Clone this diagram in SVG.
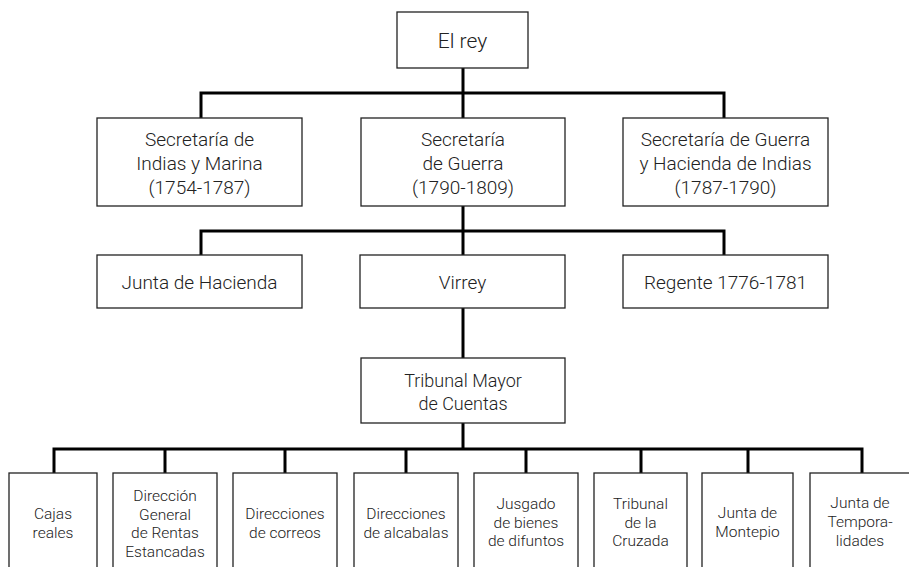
<svg xmlns="http://www.w3.org/2000/svg" width="909" height="567" viewBox="0 0 909 567">
<style>
  .box { fill: #ffffff; stroke: #222222; stroke-width: 1.3; }
  .conn { fill: none; stroke: #000000; stroke-width: 3; stroke-linejoin: miter; stroke-linecap: butt; }
  text { font-family: Roboto, "Open Sans", "Liberation Sans", sans-serif; font-weight: 300; fill: #222222; text-anchor: middle; }
  .t21 { font-size: 21px; }
  .t19 { font-size: 19px; }
  .t18 { font-size: 18px; }
  .t15 { font-size: 15.5px; }
</style>
<rect x="0" y="0" width="909" height="567" fill="#ffffff"/>
<g id="connectors">
  <path class="conn" d="M463 68 V93 M201 118 V93 H724 V118 M463 93 V118"/>
  <path class="conn" d="M463 206 V231 M201 255 V231 H724 V255 M463 231 V255"/>
  <path class="conn" d="M463 308 V358"/>
  <path class="conn" d="M463 423 V449 M54 473 V449 H862 V473 M165 449 V473 M285 449 V473 M406 449 V473 M526 449 V473 M641 449 V473 M748 449 V473"/>
</g>
<g id="n-rey">
  <rect class="box" x="397" y="12" width="131" height="56"/>
  <text class="t21" x="462.5" y="48">El rey</text>
</g>
<g id="n-sec-indias">
  <rect class="box" x="97" y="118" width="205" height="88"/>
  <text class="t19" x="199.5" y="146">Secretaría de</text>
  <text class="t19" x="199.5" y="170">Indias y Marina</text>
  <text class="t19" x="199.5" y="194">(1754-1787)</text>
</g>
<g id="n-sec-guerra">
  <rect class="box" x="361" y="118" width="204" height="88"/>
  <text class="t19" x="463" y="146">Secretaría</text>
  <text class="t19" x="463" y="170">de Guerra</text>
  <text class="t19" x="463" y="194">(1790-1809)</text>
</g>
<g id="n-sec-guerra-hacienda">
  <rect class="box" x="623" y="118" width="205" height="88"/>
  <text class="t19" x="725.5" y="146">Secretaría de Guerra</text>
  <text class="t19" x="725.5" y="170">y Hacienda de Indias</text>
  <text class="t19" x="725.5" y="194">(1787-1790)</text>
</g>
<g id="n-junta-hacienda">
  <rect class="box" x="97" y="255" width="205" height="53"/>
  <text class="t19" x="199.5" y="289">Junta de Hacienda</text>
</g>
<g id="n-virrey">
  <rect class="box" x="360" y="255" width="205" height="53"/>
  <text class="t19" x="462.5" y="289">Virrey</text>
</g>
<g id="n-regente">
  <rect class="box" x="623" y="255" width="205" height="53"/>
  <text class="t19" x="725.5" y="289">Regente 1776-1781</text>
</g>
<g id="n-tribunal-mayor">
  <rect class="box" x="361" y="358" width="204" height="65"/>
  <text class="t18" x="463" y="387">Tribunal Mayor</text>
  <text class="t18" x="463" y="410">de Cuentas</text>
</g>
<g id="n-cajas">
  <rect class="box" x="9" y="473" width="88" height="110"/>
  <text class="t15" x="53" y="519">Cajas</text>
  <text class="t15" x="53" y="537.5">reales</text>
</g>
<g id="n-direccion-rentas">
  <rect class="box" x="113" y="473" width="104" height="110"/>
  <text class="t15" x="165" y="501">Dirección</text>
  <text class="t15" x="165" y="519.5">General</text>
  <text class="t15" x="165" y="538">de Rentas</text>
  <text class="t15" x="165" y="556.5">Estancadas</text>
</g>
<g id="n-correos">
  <rect class="box" x="233" y="473" width="104" height="110"/>
  <text class="t15" x="285" y="519">Direcciones</text>
  <text class="t15" x="285" y="537.5">de correos</text>
</g>
<g id="n-alcabalas">
  <rect class="box" x="354" y="473" width="104" height="110"/>
  <text class="t15" x="406" y="519">Direcciones</text>
  <text class="t15" x="406" y="537.5">de alcabalas</text>
</g>
<g id="n-jusgado">
  <rect class="box" x="474" y="473" width="104" height="110"/>
  <text class="t15" x="526" y="509">Jusgado</text>
  <text class="t15" x="526" y="527.5">de bienes</text>
  <text class="t15" x="526" y="546">de difuntos</text>
</g>
<g id="n-cruzada">
  <rect class="box" x="594" y="473" width="93" height="110"/>
  <text class="t15" x="640.5" y="509">Tribunal</text>
  <text class="t15" x="640.5" y="527.5">de la</text>
  <text class="t15" x="640.5" y="546">Cruzada</text>
</g>
<g id="n-montepio">
  <rect class="box" x="702" y="473" width="91" height="110"/>
  <text class="t15" x="747.5" y="518">Junta de</text>
  <text class="t15" x="747.5" y="536.5">Montepio</text>
</g>
<g id="n-temporalidades">
  <rect class="box" x="810" y="473" width="104" height="110"/>
  <text class="t15" x="860" y="508">Junta de</text>
  <text class="t15" x="860" y="527">Tempora-</text>
  <text class="t15" x="860" y="546">lidades</text>
</g>
</svg>
